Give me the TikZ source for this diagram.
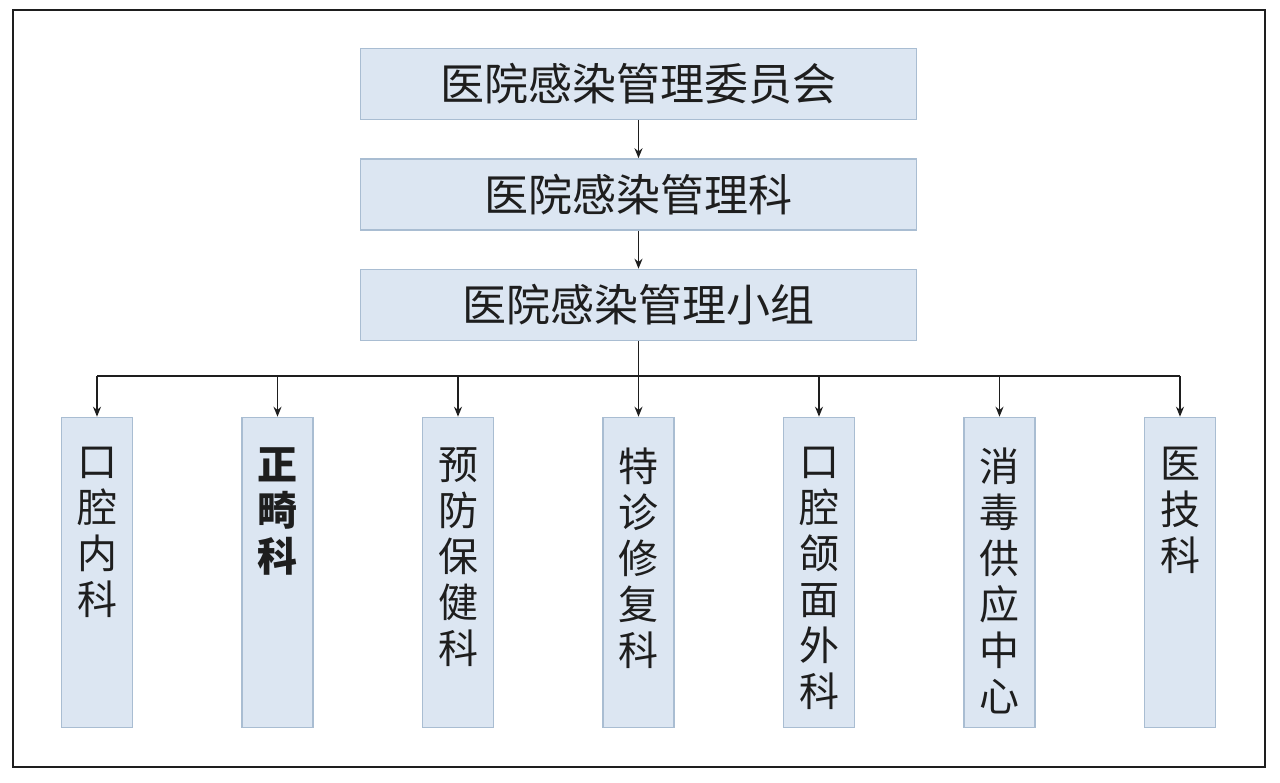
\documentclass[tikz,border=0pt]{standalone}
\usepackage{fontspec}
\setmainfont{Noto Sans CJK SC}
\usetikzlibrary{arrows.meta}
\definecolor{boxfill}{HTML}{DCE6F2}
\definecolor{boxline}{HTML}{A9BDD2}
\definecolor{ink}{HTML}{1E1E1E}
\tikzset{
  topbox/.style={draw=boxline, line width=1.6pt, fill=boxfill, minimum width=556pt, minimum height=71pt, inner sep=0pt, font=\fontsize{44}{48}\selectfont, text=ink},
  colbox/.style={draw=boxline, line width=1.6pt, fill=boxfill, inner sep=0pt, text=ink},
  conn/.style={draw=ink, line width=1.5pt},
  arr/.style={conn, -{Stealth[length=10pt,width=8pt]}},
}
\newcommand{\coltext}[1]{\parbox[c][310pt][t]{71pt}{\centering\vspace*{30pt}\fontsize{40}{46}\selectfont #1}}
\begin{document}
\begin{tikzpicture}[x=1pt,y=-1pt]
\useasboundingbox (0,0) rectangle (1280,782);
\draw[line width=2pt, draw=ink] (13,10) rectangle (1265,767);
\node[topbox] (a) at (638.5,84) {医院感染管理委员会};
\node[topbox] (b) at (638.5,194.5) {医院感染管理科};
\node[topbox] (c) at (638.5,305) {医院感染管理小组};
\node[colbox] (m1) at (97,572.5) {\coltext{口\\腔\\内\\科}};
\node[colbox] (m2) at (277.5,572.5) {\coltext{\bfseries 正\\畸\\科}};
\node[colbox] (m3) at (458,572.5) {\coltext{预\\防\\保\\健\\科}};
\node[colbox] (m4) at (638.5,572.5) {\coltext{特\\诊\\修\\复\\科}};
\node[colbox] (m5) at (819,572.5) {\coltext{口\\腔\\颌\\面\\外\\科}};
\node[colbox] (m6) at (999.5,572.5) {\coltext{消\\毒\\供\\应\\中\\心}};
\node[colbox] (m7) at (1180,572.5) {\coltext{医\\技\\科}};
\coordinate (bus) at (638.5,376);
\draw[arr] (a) -- (b);
\draw[arr] (b) -- (c);
\draw[arr] (c) -- (m4);
\draw[conn] (m1.north |- bus) -- (m7.north |- bus);
\foreach \i in {1,2,3,5,6,7} {
  \draw[arr] (m\i.north |- bus) -- (m\i.north);
}
\end{tikzpicture}
\end{document}
